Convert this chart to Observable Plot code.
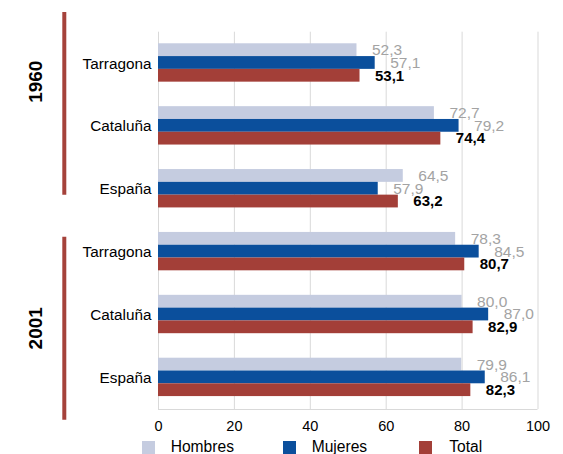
<!DOCTYPE html>
<html>
<head>
<meta charset="utf-8">
<script src="https://cdn.jsdelivr.net/npm/d3@7"></script>
<script src="https://cdn.jsdelivr.net/npm/@observablehq/plot@0.6"></script>
<style>
  body { margin: 0; background: #fff; font-family: "Liberation Sans", Arial, sans-serif; }
  #wrap { position: relative; width: 563px; height: 454px; overflow: hidden; }
  #chart { position: absolute; left: 0; top: 0; }
  .sw { position: absolute; top: 441px; width: 13px; height: 13px; }
  .lt { position: absolute; top: 437px; font-size: 15.6px; line-height: 19px; color: #000; white-space: nowrap; }
</style>
</head>
<body>
<div id="wrap"><div id="chart"></div><div id="legend"></div></div>
<script>
// ---- data ----
const years = ["1960", "2001"];
const regions = ["Tarragona", "Cataluña", "España"];
const seriesNames = ["Hombres", "Mujeres", "Total"];
const hombres = [52.3, 72.7, 64.5, 78.3, 80.0, 79.9];
const mujeres = [57.1, 79.2, 57.9, 84.5, 87.0, 86.1];
const total   = [53.1, 74.4, 63.2, 80.7, 82.9, 82.3];
const xTicks = [0, 20, 40, 60, 80, 100];

// ---- build table ----
const rows = years.flatMap((yr, g) => regions.map((r, j) => ({key: yr + "|" + r, year: yr, region: r, i: g * 3 + j})));
const rowKeys = rows.map(d => d.key);
const table = rows.map(d => ({...d, Hombres: hombres[d.i], Mujeres: mujeres[d.i], Total: total[d.i]}));
const groups = years.map((yr, g) => ({year: yr, first: rowKeys[g * 3], mid: rowKeys[g * 3 + 1], last: rowKeys[g * 3 + 2]}));

// ---- styles / layout ----
const W = 563, H = 436, MT = 31.7, MB = 27, ML = 158, MR = 25.5;
const band = (H - MT - MB) / rowKeys.length;
const barStart = 0.1843 * band, barH = 0.2034 * band;
const style = {
  Hombres: {color: "#c5cce0", label: "#a3a3a3", weight: "normal", size: 15.5},
  Mujeres: {color: "#0b4f9c", label: "#a3a3a3", weight: "normal", size: 15.5},
  Total:   {color: "#a33f38", label: "#000000", weight: "bold", size: 15}
};
const groupStyle = [
  {labelDy: -44.8, insetTop: -19.7, insetBottom: 25.5},
  {labelDy: 13.1, insetTop: 16.5, insetBottom: -10.7}
];
const fmt = v => v.toFixed(1).replace(".", ",");

const marks = [
  Plot.gridX(xTicks, {stroke: "#d9d9d9", strokeOpacity: 1, strokeWidth: 1}),
  Plot.ruleY([rowKeys[rowKeys.length - 1]], {y: d => d, dy: band / 2, stroke: "#d9d9d9", strokeWidth: 1})
];
seriesNames.forEach((s, k) => {
  const st = style[s];
  const top = barStart + k * barH;
  marks.push(Plot.barX(table, {
    x: s, y: "key", fill: st.color,
    insetTop: top, insetBottom: band - top - barH
  }));
});
seriesNames.forEach((s, k) => {
  const st = style[s];
  const center = barStart + (k + 0.5) * barH - band / 2;
  marks.push(Plot.text(table, {
    x: s, y: "key", text: d => fmt(d[s]),
    textAnchor: "start", dx: 15, dy: center,
    fill: st.label, fontWeight: st.weight, fontSize: st.size
  }));
});
groups.forEach((grp, g) => {
  const gs = groupStyle[g];
  marks.push(Plot.ruleX([grp], {
    x: () => 0, y1: "first", y2: "last", dx: 63.8 - ML,
    stroke: "#a5423b", strokeWidth: 4,
    insetTop: gs.insetTop, insetBottom: gs.insetBottom
  }));
  marks.push(Plot.text([grp], {
    frameAnchor: "left", textAnchor: "middle", y: "mid", text: "year", rotate: -90,
    dx: 35 - ML, dy: gs.labelDy,
    fontWeight: "bold", fontSize: 19, fill: "#000"
  }));
});
marks.push(Plot.axisX(xTicks, {anchor: "bottom", tickSize: 0, tickPadding: 11, fontSize: 14.5, tickFormat: d => String(d)}));
marks.push(Plot.axisY({anchor: "left", tickSize: 0, tickPadding: 7, fontSize: 15.3, tickFormat: k => k.split("|")[1]}));

const chart = Plot.plot({
  width: W, height: H,
  marginTop: MT, marginBottom: MB, marginLeft: ML, marginRight: MR,
  style: {fontFamily: "'Liberation Sans', Arial, sans-serif", background: "#fff", overflow: "visible"},
  x: {domain: [0, 100], axis: null},
  y: {domain: rowKeys, padding: 0, round: false, axis: null},
  marks
});
document.getElementById("chart").appendChild(chart);

// ---- legend ----
const legendPos = {Hombres: [141.7, 170.7], Mujeres: [283, 311.7], Total: [419.3, 449.3]};
const legend = document.getElementById("legend");
seriesNames.forEach(s => {
  const sw = document.createElement("div");
  sw.className = "sw";
  sw.style.left = legendPos[s][0] + "px";
  sw.style.background = style[s].color;
  legend.appendChild(sw);
  const t = document.createElement("div");
  t.className = "lt";
  t.style.left = legendPos[s][1] + "px";
  t.textContent = s;
  legend.appendChild(t);
});
</script>
</body>
</html>
